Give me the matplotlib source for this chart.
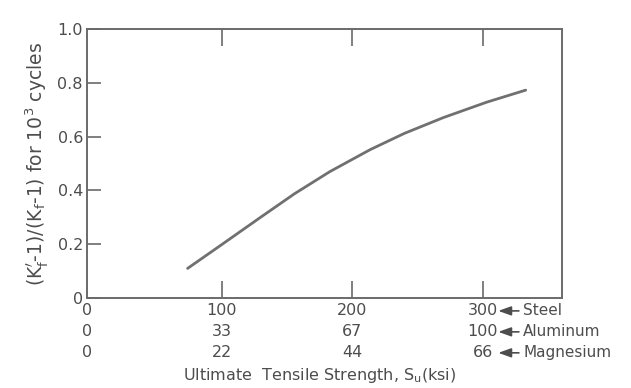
import matplotlib.pyplot as plt

# curve (steel scale, ksi)
su_steel = [74, 100, 129, 156, 183, 214, 240, 270, 303, 333]
ratio = [0.110, 0.198, 0.297, 0.388, 0.470, 0.552, 0.612, 0.671, 0.728, 0.773]

steel_labels = ["0", "100", "200", "300"]
aluminum_labels = ["0", "33", "67", "100"]
magnesium_labels = ["0", "22", "44", "66"]
materials = ["Steel", "Aluminum", "Magnesium"]
tick_pos = [0, 100, 200, 300]
yticks = [0, 0.2, 0.4, 0.6, 0.8, 1.0]
ytick_labels = ["0", "0.2", "0.4", "0.6", "0.8", "1.0"]

ink = "#4d4d4d"
plt.rcParams["font.family"] = ["DejaVu Sans"]

fig = plt.figure(figsize=(6.31, 3.88), dpi=100)
ax = fig.add_axes([0.138, 0.232, 0.753, 0.693])

ax.plot(su_steel, ratio, color="#707070", lw=2.0, solid_capstyle="round")

ax.set_xlim(-3, 361)
ax.set_ylim(0, 1.0)
for s in ax.spines.values():
    s.set_color("#6a6a6a")
    s.set_linewidth(1.4)

ax.set_yticks(yticks)
ax.set_yticklabels(ytick_labels, fontsize=11.5, color=ink)
ax.tick_params(axis="y", direction="in", length=10, width=1.2, color="#6a6a6a",
               left=True, right=False, pad=3)
ax.set_xticks(tick_pos[1:])
ax.set_xticklabels([])
ax.tick_params(axis="x", direction="in", length=12, width=1.2, color="#6a6a6a",
               top=True, bottom=True)

rows = [steel_labels, aluminum_labels, magnesium_labels]
row_y = [-0.048, -0.126, -0.204]
tr = ax.get_xaxis_transform()
for labels, name, yy in zip(rows, materials, row_y):
    for i, (p, lab) in enumerate(zip(tick_pos, labels)):
        x = -3 if i == 0 else p
        ax.text(x, yy, lab, transform=tr, ha="center", va="center",
                fontsize=11.5, color=ink)
    ax.annotate(name, xy=(312, yy), xycoords=tr, xytext=(331, yy), textcoords=tr,
                ha="left", va="center", fontsize=11, color=ink,
                arrowprops=dict(arrowstyle="-|>,head_length=0.7,head_width=0.25",
                                color=ink, lw=1.2, shrinkA=1, shrinkB=0))

ax.text(0.49, -0.29, r"Ultimate  Tensile Strength, S$_\mathrm{u}$(ksi)", transform=ax.transAxes,
        ha="center", va="center", fontsize=11.5, color=ink)

ax.set_ylabel(r"(K$_\mathrm{f}^{\prime}$-1)/(K$_\mathrm{f}$-1) for 10$^3$ cycles",
              fontsize=13.5, color=ink, labelpad=5)

fig.savefig("out.png", dpi=100, facecolor="white")
